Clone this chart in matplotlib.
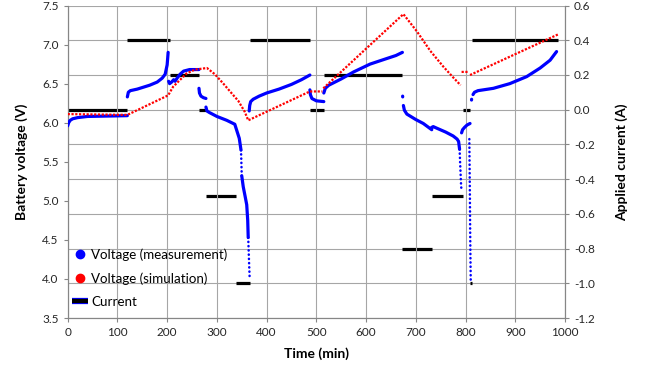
import numpy as np
import matplotlib
matplotlib.use("Agg")
import matplotlib.pyplot as plt
import matplotlib.patheffects as pe
from matplotlib.lines import Line2D

plt.rcParams['font.family'] = ['Lato', 'DejaVu Sans']
plt.rcParams['axes.unicode_minus'] = False

nan = np.nan

# Measured voltage, dense parts (NaN separates the load steps)
meas_time = [0, 2, 5, 10, 20, 40, 80, 120, nan,
             120, 122, 126, 140, 165, 180, 190, 196, 200, 202, nan,
             203, 205, 209, 213, 216, 220, 226, 233, 245, 264, nan,
             264, 265, 268, 273, 278, nan,
             278, 280, 285, 300, 320, 336, 340, 345, 348.5, nan,
             350, 353, 357, 360, 362, 363, nan,
             365, 366, 368, 373, 385, 400, 425, 450, 470, 487, nan,
             487, 488, 491, 500, 515, nan,
             515, 518, 525, 550, 575, 608, 641, 660, 673, nan,
             673.5, 673.6, nan,
             675, 677, 682, 700, 715, 732, nan,
             732, 735, 742, 760, 775, 783, 786, 788, nan,
             792, 794, 798, 803, 809, nan,
             812, 812.2, nan,
             815, 818, 825, 856, 889, 923, 950, 970, 983]
meas_volt = [5.96, 6.00, 6.03, 6.05, 6.065, 6.08, 6.085, 6.09, nan,
             6.33, 6.39, 6.41, 6.43, 6.48, 6.52, 6.57, 6.62, 6.74, 6.90, nan,
             6.53, 6.50, 6.52, 6.55, 6.53, 6.57, 6.62, 6.66, 6.68, 6.68, nan,
             6.44, 6.38, 6.34, 6.32, 6.31, nan,
             6.20, 6.15, 6.13, 6.08, 6.03, 5.98, 5.90, 5.80, 5.65, nan,
             5.32, 5.18, 5.05, 4.95, 4.75, 4.53, nan,
             6.15, 6.22, 6.27, 6.30, 6.34, 6.38, 6.43, 6.49, 6.55, 6.61, nan,
             6.42, 6.36, 6.31, 6.28, 6.27, nan,
             6.38, 6.44, 6.48, 6.56, 6.65, 6.75, 6.82, 6.86, 6.90, nan,
             6.34, 6.33, nan,
             6.22, 6.16, 6.11, 6.04, 5.99, 5.91, nan,
             5.94, 5.95, 5.93, 5.88, 5.83, 5.79, 5.76, 5.66, nan,
             5.87, 5.91, 5.94, 5.97, 5.99, nan,
             6.29, 6.30, nan,
             6.36, 6.39, 6.41, 6.44, 6.50, 6.59, 6.70, 6.80, 6.91]

# Measured voltage during the fast drops (sparse samples)
drop_time = [348.5, 349.3, 350, nan,
             363, 364.5, 366, nan,
             788, 789, 790, 791, 792, nan,
             807.6, 808.2, 808.8, 809.3, 809.8, 810.4]
drop_volt = [5.65, 5.48, 5.32, nan,
             4.53, 4.25, 3.99, nan,
             5.66, 5.50, 5.35, 5.20, 5.12, nan,
             5.79, 5.40, 5.00, 4.60, 4.30, 3.99]

# Simulated voltage
sim_time = [0, 120, 202, 212, 239, 256, 280, 296, 313, 336, 343, 356, 363,
            487, 512, nan,
            514, 675, 702, 729, 755, 775, 790, nan,
            792, 805, nan,
            809, 986]
sim_volt = [6.11, 6.10, 6.35, 6.46, 6.63, 6.68, 6.70, 6.62, 6.50, 6.33, 6.28, 6.14, 6.03,
            6.40, 6.40, nan,
            6.44, 7.39, 7.17, 6.92, 6.72, 6.58, 6.48, nan,
            6.65, 6.65, nan,
            6.61, 7.13]

# Applied current profile
step_start = [0, 120, 205, 265, 278, 338, 367, 487, 515, 673, 733, 795, 808, 812]
step_end = [120, 205, 265, 278, 338, 367, 487, 515, 673, 733, 795, 808, 812, 985]
step_current = [0.0, 0.4, 0.2, 0.0, -0.5, -1.0, 0.4, 0.0, 0.2, -0.8, -0.5, 0.0, -1.0, 0.4]

current_ticks = np.round(np.arange(-1.2, 0.61, 0.2), 1)
voltage_ticks = np.round(np.arange(3.5, 7.51, 0.5), 1)

blue = '#0000ff'
red = '#ff0000'
grid_c = '#a6a6a6'
tick_c = '#868686'

fig = plt.figure(figsize=(6.47, 3.67), dpi=100)
ax = fig.add_axes([0.1046, 0.1335, 0.7687, 0.8515])
ax2 = ax.twinx()

# current axis sits behind the voltage axis
ax.set_zorder(ax2.get_zorder() + 1)
ax.patch.set_visible(False)

ax2.hlines(step_current, step_start, step_end, colors='black', lw=2.3, zorder=3)
ax2.set_ylim(-1.2, 0.6)
ax2.set_yticks(current_ticks)
ax2.set_yticklabels([f"{v:.1f}" if v != 0 else "0.0" for v in current_ticks])
ax2.grid(axis='y', color=grid_c, lw=0.8)
ax2.set_ylabel('Applied current (A)', fontsize=10, fontweight='bold', labelpad=15)

ax.plot(meas_time, meas_volt, color=blue, lw=2.3, solid_capstyle='round', zorder=3)
ax.plot(drop_time, drop_volt, color=blue, lw=1.8, linestyle=(0, (0.1, 1.6)),
        dash_capstyle='round', zorder=3)
ax.plot(sim_time, sim_volt, color=red, lw=1.6, linestyle=(0, (1, 0.7)), zorder=4)

ax.set_xlim(0, 1000)
ax.set_ylim(3.5, 7.5)
ax.set_xticks(np.arange(0, 1001, 100))
ax.set_yticks(voltage_ticks)
ax.set_yticklabels([f"{v:.1f}" for v in voltage_ticks])
ax.grid(axis='x', color=grid_c, lw=0.8)
ax.set_axisbelow(True)
ax.set_xlabel('Time (min)', fontsize=10, fontweight='bold', labelpad=7)
ax.set_ylabel('Battery voltage (V)', fontsize=10, fontweight='bold', labelpad=10)

for a in (ax, ax2):
    a.spines['top'].set_visible(False)
    for s in ('left', 'right', 'bottom'):
        a.spines[s].set_color(tick_c)
        a.spines[s].set_linewidth(0.8)
    a.tick_params(colors=tick_c, labelcolor='#262626', labelsize=8.5, length=3, width=0.8)

handles = [Line2D([], [], marker='o', color=blue, ls='none', markersize=6),
           Line2D([], [], marker='o', color=red, ls='none', markersize=6),
           Line2D([], [], color='black', lw=3, solid_capstyle='butt',
                  path_effects=[pe.Stroke(linewidth=4.5, foreground=blue), pe.Normal()])]
labels = ['Voltage (measurement)', 'Voltage (simulation)', 'Current']
fig.legend(handles, labels, loc='upper left', bbox_to_anchor=(0.103, 0.338),
           frameon=False, fontsize=9.6, handlelength=1.2, handletextpad=0.25,
           labelspacing=0.85, borderaxespad=0)

fig.savefig('out.png', dpi=100)
